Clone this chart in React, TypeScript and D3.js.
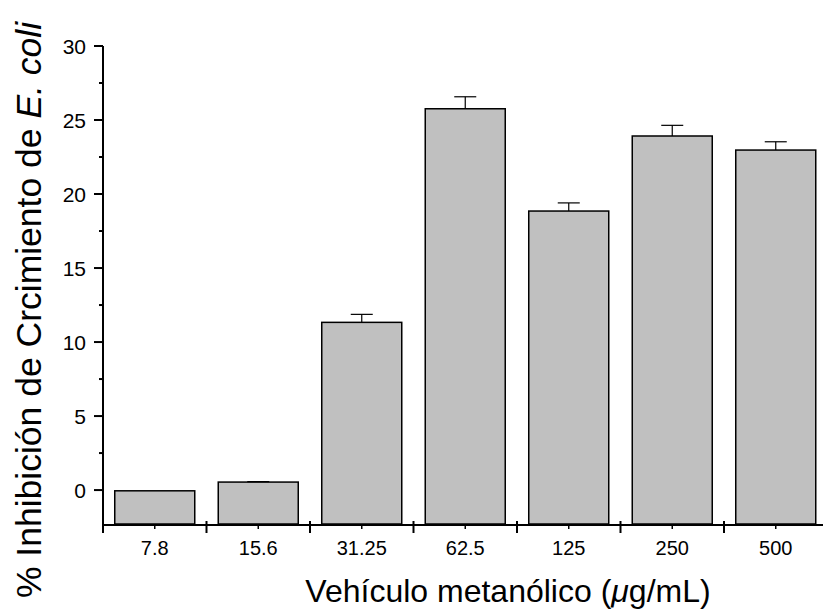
import React from "react";
import * as d3 from "d3";

const categories = ["7.8", "15.6", "31.25", "62.5", "125", "250", "500"];
const values = [-0.05, 0.54, 11.33, 25.76, 18.85, 23.92, 22.97];
const errors = [0, 0.03, 0.54, 0.81, 0.55, 0.72, 0.56];
const yTicks = [0, 5, 10, 15, 20, 25, 30];
const yMinorTicks = [2.5, 7.5, 12.5, 17.5, 22.5, 27.5];

const W = 823;
const H = 615;
const left = 103;
const top = 46;
const bottom = 525;

export default function App() {
  const x = d3
    .scaleBand<string>()
    .domain(categories)
    .range([left, left + 7 * 103.5])
    .paddingInner(0.227)
    .paddingOuter(0.1135);
  const y = d3.scaleLinear().domain([-2.36, 30]).range([bottom, top]);
  const font = "'Liberation Sans', Arial, Helvetica, sans-serif";
  const step = x.step();
  const boundaries = d3.range(categories.length + 1).map((i) => left + i * step);

  return (
    <svg
      width={W}
      height={H}
      style={{ position: "absolute", left: 0, top: 0, background: "#fff", fontFamily: font }}
    >
      <rect x={0} y={0} width={W} height={H} fill="#fff" />
      {categories.map((c, i) => {
        const bx = x(c)!;
        const bw = x.bandwidth();
        const yt = y(values[i]);
        const cx = bx + bw / 2;
        return (
          <g key={c}>
            <rect
              x={bx}
              y={yt}
              width={bw}
              height={y(-2.36) - yt - 1}
              fill="#c0c0c0"
              stroke="#000"
              strokeWidth={1.5}
            />
            {errors[i] > 0 && (
              <g stroke="#000" strokeWidth={1.2}>
                <line x1={cx} x2={cx} y1={yt} y2={y(values[i] + errors[i])} />
                <line
                  x1={cx - 11}
                  x2={cx + 11}
                  y1={y(values[i] + errors[i])}
                  y2={y(values[i] + errors[i])}
                />
              </g>
            )}
          </g>
        );
      })}
      <line x1={left} x2={left} y1={top} y2={bottom + 1} stroke="#000" strokeWidth={2} />
      {yTicks.map((t) => (
        <g key={t}>
          <line x1={left - 9} x2={left} y1={y(t)} y2={y(t)} stroke="#000" strokeWidth={2} />
          <text
            x={86}
            y={y(t)}
            dy="0.36em"
            textAnchor="end"
            fontSize={21}
            fill="#000"
          >
            {t}
          </text>
        </g>
      ))}
      {yMinorTicks.map((t) => (
        <line key={t} x1={left - 4} x2={left} y1={y(t)} y2={y(t)} stroke="#000" strokeWidth={2} />
      ))}
      <line x1={left - 1} x2={W} y1={bottom} y2={bottom} stroke="#000" strokeWidth={2} />
      {boundaries.map((b, i) => (
        <line key={i} x1={b} x2={b} y1={bottom - 4} y2={bottom + 8} stroke="#000" strokeWidth={2} />
      ))}
      {categories.map((c) => {
        const cx = x(c)! + x.bandwidth() / 2;
        return (
          <g key={c}>
            <line x1={cx} x2={cx} y1={bottom} y2={bottom + 4} stroke="#000" strokeWidth={1.5} />
            <text x={cx} y={555} textAnchor="middle" fontSize={20} fill="#000">
              {c}
            </text>
          </g>
        );
      })}
      <text x={508} y={602} textAnchor="middle" fontSize={32} fill="#000">
        Vehículo metanólico (<tspan fontStyle="italic">μ</tspan>g/mL)
      </text>
      <text
        transform="translate(41,310) rotate(-90)"
        textAnchor="middle"
        fontSize={35.5}
        fill="#000"
      >
        % Inhibición de Crcimiento de <tspan fontStyle="italic">E. coli</tspan>
      </text>
    </svg>
  );
}
